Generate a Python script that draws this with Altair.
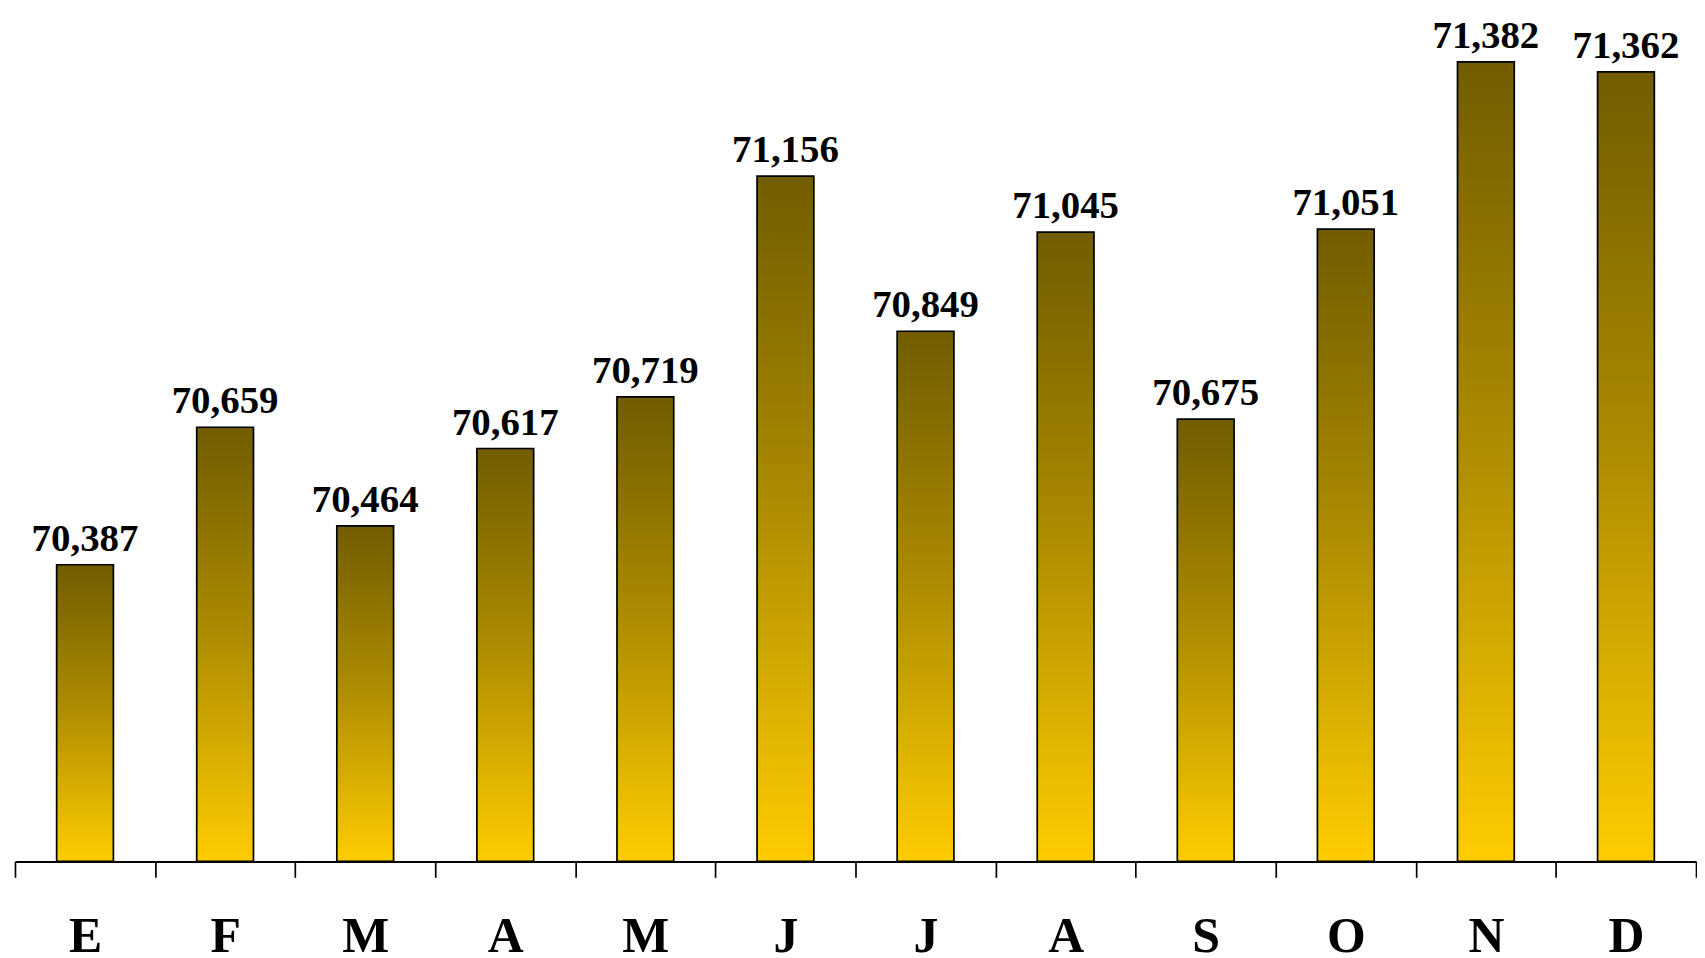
import altair as alt
import pandas as pd

months = ["E", "F", "M", "A", "M", "J", "J", "A", "S", "O", "N", "D"]
values = [70387, 70659, 70464, 70617, 70719, 71156, 70849, 71045, 70675, 71051, 71382, 71362]
order = list(range(12))
axis_floor = 69800

df = pd.DataFrame({"idx": order, "mes": months, "valor": values})

x_enc = alt.X(
    "idx:O",
    scale=alt.Scale(paddingInner=0, paddingOuter=0),
    axis=alt.Axis(
        title=None,
        labelExpr="['E','F','M','A','M','J','J','A','S','O','N','D'][datum.value]",
        labelAngle=0,
        labelFont="Liberation Serif",
        labelFontWeight="bold",
        labelFontSize=50,
        labelColor="black",
        labelPadding=34,
        tickBand="extent",
        tickSize=16,
        tickWidth=1.7,
        tickColor="black",
        domainColor="black",
        domainWidth=2,
        grid=False,
        zindex=1,
    ),
)
y_scale = alt.Scale(domain=[axis_floor, 71465], nice=False, zero=False)

bars = alt.Chart(df).mark_bar(
    size=57,
    stroke="black",
    strokeWidth=1.7,
    color=alt.Gradient(
        gradient="linear",
        stops=[
            alt.GradientStop(color="#725C00", offset=0),
            alt.GradientStop(color="#B08E00", offset=0.5),
            alt.GradientStop(color="#FFCC00", offset=1),
        ],
        x1=0, x2=0, y1=0, y2=1,
    ),
).encode(
    x=x_enc,
    y=alt.Y("valor:Q", scale=y_scale, axis=None),
    y2=alt.datum(axis_floor),
)

labels = alt.Chart(df).mark_text(
    font="Liberation Serif",
    fontWeight="bold",
    fontSize=39,
    color="black",
    baseline="alphabetic",
    dy=-14,
).encode(
    x=alt.X("idx:O"),
    y=alt.Y("valor:Q", scale=y_scale),
    text=alt.Text("valor:Q", format=",.0f"),
)

chart = (
    alt.layer(bars, labels)
    .properties(
        width=1688,
        height=845,
        autosize=alt.AutoSizeParams(type="none"),
        padding={"left": 7, "right": 1, "top": 10, "bottom": 90},
    )
    .configure_view(stroke=None)
)

chart.save("out.html", embed_options={"renderer": "svg", "actions": False})
